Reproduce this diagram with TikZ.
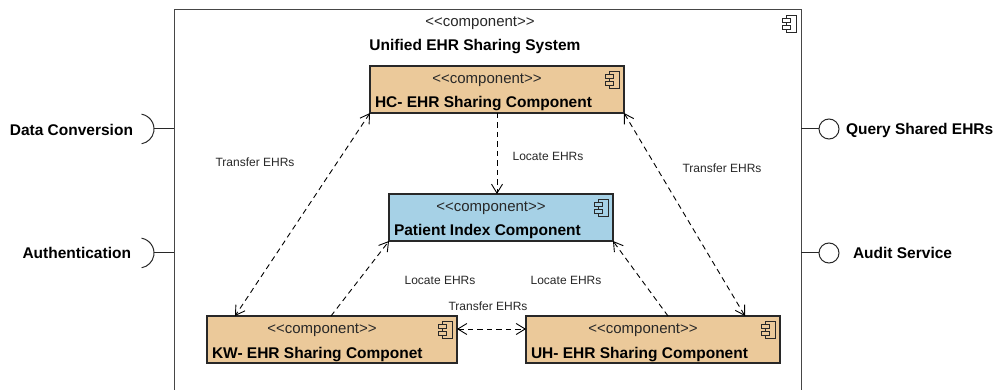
\documentclass[tikz,border=0pt]{standalone}
\usepackage{fontspec}
\setmainfont{Liberation Sans}
\usetikzlibrary{arrows.meta}

\definecolor{comptan}{RGB}{235,201,154}
\definecolor{compblue}{RGB}{166,209,230}
\definecolor{inkdark}{RGB}{40,40,40}
\definecolor{framegray}{RGB}{70,70,70}

% stereotype text with plain angle brackets (no guillemet ligature)
\newcommand\stereotext{\textless\kern0pt\textless component\textgreater\kern0pt\textgreater}

\tikzset{
  every node/.style={inner sep=0pt, outer sep=0pt},
  stereo/.style={font=\fontsize{15}{18}\selectfont, text=inkdark},
  cname/.style={font=\fontsize{15.5}{18}\selectfont\bfseries, text=black, anchor=base west},
  ifc/.style={font=\fontsize{15.5}{18}\selectfont\bfseries, text=black},
  lbl/.style={font=\fontsize{12}{14}\selectfont, text=inkdark},
  comp/.style={draw=inkdark, line width=1.1pt, minimum width=#1, minimum height=47pt, anchor=north west},
  dep/.style={draw=black, line width=0.9pt, dash pattern=on 5.5pt off 4pt},
  >={Straight Barb[length=9pt,width=11pt,line width=0.9pt]},
  compicon/.pic={
    \draw[line width=0.8pt, draw=inkdark] (-15,5) rectangle (-5,22);
    \draw[line width=0.8pt, draw=inkdark, fill=#1] (-19,8) rectangle (-11,12.5);
    \draw[line width=0.8pt, draw=inkdark, fill=#1] (-19,15) rectangle (-11,19.5);
  },
  socket/.style={draw=inkdark, line width=1pt},
  ball/.style={circle, draw=inkdark, line width=1pt, fill=white, minimum size=20pt}
}

\begin{document}
\begin{tikzpicture}[x=1pt, y=-1pt]
\useasboundingbox (0,0) rectangle (994,390);
\fill[white] (0,0) rectangle (994,390);

% enclosing system component (open towards the bottom edge)
\node[draw=framegray, line width=1pt, minimum width=627pt, minimum height=390pt, anchor=north west] (sys) at (174,10) {};
\pic at (sys.north east) {compicon=white};
\node[stereo] (sysst) at (480,23) {\stereotext};
\node[ifc] (systitle) at (475,47) {Unified EHR Sharing System};

% inner components
\node[comp=254pt, fill=comptan] (hc) at (370,66) {};
\node[comp=224pt, fill=compblue] (pi) at (389,194) {};
\node[comp=250pt, fill=comptan] (kw) at (207,316) {};
\node[comp=254pt, fill=comptan] (uh) at (526,316) {};

\foreach \b/\f in {hc/comptan, pi/compblue, kw/comptan, uh/comptan}{
  \pic at (\b.north east) {compicon=\f};
  \node[stereo] at ([xshift=-10pt, yshift=-14pt]\b.north) {\stereotext};
}
\node[cname] at ([xshift=5pt, yshift=5pt]hc.south west) {HC- EHR Sharing Component};
\node[cname] at ([xshift=5pt, yshift=5pt]pi.south west) {Patient Index Component};
\node[cname] at ([xshift=5pt, yshift=5pt]kw.south west) {KW- EHR Sharing Componet};
\node[cname] at ([xshift=5pt, yshift=5pt]uh.south west) {UH- EHR Sharing Component};

% dependencies
\draw[dep, ->] (hc.south) -- (hc.south |- pi.north);
\draw[dep, <->] (hc.south west) -- ([xshift=28pt]kw.north west);
\draw[dep, <->] (hc.south east) -- ([xshift=-35pt]uh.north east);
\draw[dep, ->] ([xshift=124pt]kw.north west) -- (pi.south west);
\draw[dep, ->] ([xshift=142pt]uh.north west) -- (pi.south east);
\draw[dep, <->] ([yshift=-13pt]kw.north east) -- ([yshift=-13pt]uh.north west);

\node[lbl] (l1) at (548,156) {Locate EHRs};
\node[lbl] (l2) at (255,162) {Transfer EHRs};
\node[lbl] (l3) at (722,168) {Transfer EHRs};
\node[lbl] (l4) at (440,280) {Locate EHRs};
\node[lbl] (l5) at (566,280) {Locate EHRs};
\node[lbl] (l6) at (488,306) {Transfer EHRs};

% required interfaces (left)
\node[ifc, anchor=east] (dc) at (133,130) {Data Conversion};
\coordinate (dcs) at (154,129);
\draw[socket] (dcs) -- (dcs -| sys.west);
\draw[socket] (139,129) ++(-80:15) arc[start angle=-80, end angle=80, radius=15];

\node[ifc, anchor=east] (au) at (131,253) {Authentication};
\coordinate (aus) at (154,253);
\draw[socket] (aus) -- (aus -| sys.west);
\draw[socket] (139,253) ++(-80:15) arc[start angle=-80, end angle=80, radius=15];

% provided interfaces (right)
\node[ball] (qsb) at (829,129) {};
\draw[socket] (qsb.west) -- (qsb.west -| sys.east);
\node[ifc, anchor=west] (qs) at (846,130) {Query Shared EHRs};

\node[ball] (asb) at (829,253) {};
\draw[socket] (asb.west) -- (asb.west -| sys.east);
\node[ifc, anchor=west] (as) at (853,253) {Audit Service};
\end{tikzpicture}
\end{document}
